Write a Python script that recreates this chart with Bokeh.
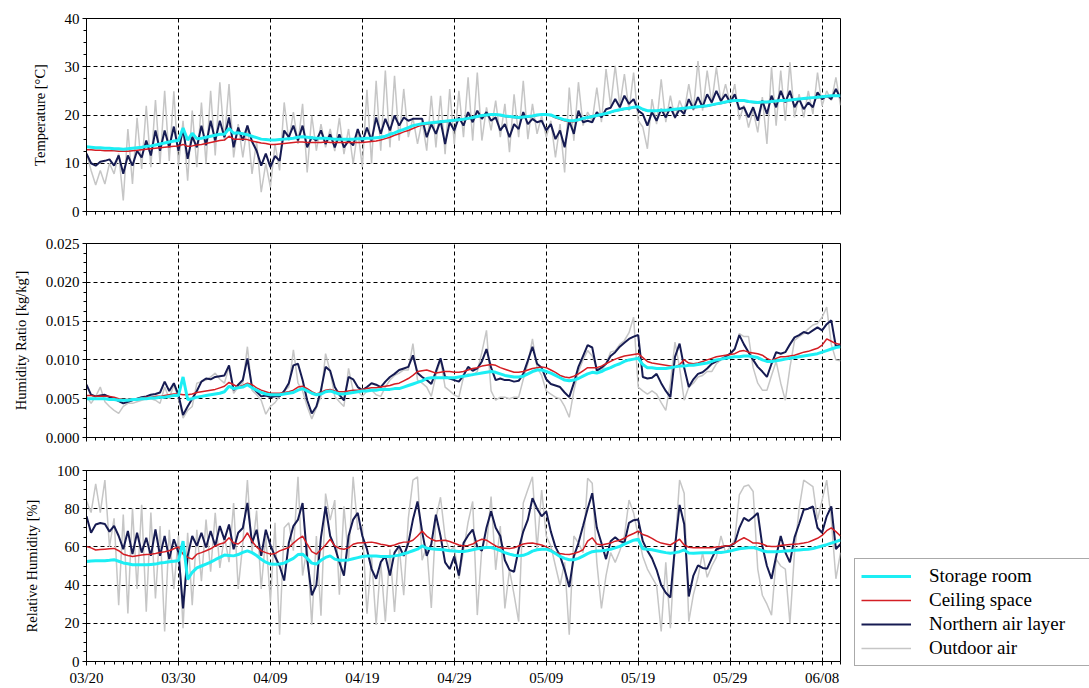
import numpy as np
from bokeh.plotting import figure
from bokeh.layouts import column, row
from bokeh.models import FixedTicker, Legend, LegendItem, Range1d
from bokeh.embed import file_html
from bokeh.resources import INLINE

FONT = "Liberation Serif"

# ---------------- data (half-day samples, day 0 = 03/20) ----------------
t_days = np.arange(165) * 0.5

date_ticks = [0, 10, 20, 30, 40, 50, 60, 70, 80]
date_labels = ["03/20", "03/30", "04/09", "04/19", "04/29", "05/09", "05/19", "05/29", "06/08"]

# Temperature [degC]
temp_outdoor = [
    12, 8.5, 5.5, 8.5, 5.7, 10, 7.8, 12, 2.3, 17.1, 5.7, 19.4, 8.8, 21.9, 9.2, 23.1, 9.9, 25.0, 10.5, 24.9,
    9.5, 18.8, 6.4, 20.9, 9.2, 22.6, 9.9, 25.0, 11.6, 26.8, 14.7, 26.4, 11.2, 18.1, 11.2, 17.8, 7.8, 14.5, 4.0, 10.0,
    5.0, 14.0, 8.5, 22.6, 14.7, 20.6, 14.0, 22.3, 8.1, 19.9, 12.6, 18.1, 13.3, 17.1, 12.5, 19.4, 11.9, 17.1, 9.9, 16.8,
    9.2, 25.2, 9.9, 27.1, 12.6, 29.2, 13.3, 28.1, 14.7, 25.4, 15.4, 19.4, 14.0, 18.8, 12.6, 24.0, 13.3, 24.0, 11.9, 25.4,
    14.0, 25.0, 15.4, 27.8, 14.7, 28.8, 14.7, 21.6, 16.8, 23.0, 15.4, 22.3, 12.3, 24.3, 15.4, 27.1, 15.0, 22.3, 16.1, 19.9,
    15.4, 18.8, 11.2, 18.1, 8.1, 25.7, 14.7, 26.8, 17.8, 20.6, 18.8, 25.7, 18.5, 29.5, 21.9, 30.2, 21.9, 28.5, 20.9, 28.8,
    18.8, 17.5, 13.0, 23.3, 18.1, 27.4, 18.5, 24.0, 19.2, 23.0, 20.6, 26.4, 20.9, 31.2, 20.9, 29.2, 22.3, 29.9, 22.6, 26.4,
    22.3, 26.4, 19.0, 22.0, 17.4, 21.0, 16.4, 23.7, 14.0, 29.9, 17.8, 29.2, 18.8, 30.9, 19.5, 24.3, 19.5, 25.0, 20.2, 28.8,
    21.9, 25.0, 23.0, 27.8, 22.0]
temp_northern = [
    12.0, 10.0, 9.5, 10.3, 10.5, 10.8, 9.5, 11.6, 7.8, 11.6, 9.5, 12.6, 11.2, 14.7, 11.6, 16.8, 12.6, 16.8, 13.3, 17.6,
    12.6, 17.1, 10.9, 15.5, 13.3, 17.8, 13.7, 18.8, 14.7, 18.8, 15.4, 19.5, 13.3, 17.4, 14.7, 17.8, 14.5, 12.6, 9.5, 12.0,
    9.2, 11.5, 10.5, 16.8, 15.4, 17.8, 14.7, 17.8, 13.3, 15.4, 14.7, 16.8, 14.0, 16.0, 13.3, 16.0, 13.3, 14.7, 13.7, 17.1,
    14.3, 17.4, 14.7, 19.5, 16.1, 19.2, 16.8, 19.9, 17.8, 19.5, 18.8, 19.2, 19.2, 19.2, 15.4, 18.1, 16.1, 18.8, 14.0, 18.5,
    16.8, 19.5, 17.8, 20.6, 18.5, 20.9, 19.2, 20.6, 18.8, 19.5, 16.8, 18.1, 15.4, 18.1, 17.1, 20.6, 18.1, 19.2, 18.5, 18.8,
    16.8, 18.1, 15.0, 16.8, 13.3, 18.8, 16.1, 20.9, 18.5, 18.8, 18.5, 20.6, 19.5, 21.2, 21.5, 23.3, 21.6, 24.0, 22.3, 23.3,
    20.9, 20.2, 17.8, 20.6, 18.8, 21.2, 19.5, 21.6, 19.5, 21.2, 20.2, 23.3, 21.2, 23.7, 21.6, 24.3, 22.6, 25.0, 22.9, 24.3,
    22.6, 24.3, 21.2, 21.6, 19.5, 21.6, 18.8, 23.0, 20.2, 24.0, 21.6, 25.0, 22.6, 25.0, 21.6, 23.3, 21.2, 22.6, 21.6, 24.7,
    23.3, 24.0, 23.3, 25.4, 23.5]
temp_storage = [
    13.4, 13.3, 13.2, 13.2, 13.1, 13.1, 13.0, 13.0, 12.9, 13.0, 13.1, 13.2, 13.3, 13.5, 13.6, 13.8, 14.0, 14.2, 14.4, 14.6,
    14.7, 17.3, 14.8, 16.2, 15.1, 15.2, 15.4, 15.6, 15.8, 16.0, 16.0, 17.2, 16.2, 16.3, 16.1, 15.9, 15.6, 15.3, 15.0, 14.9,
    14.8, 14.8, 14.9, 15.0, 15.1, 15.2, 15.4, 15.5, 15.4, 15.3, 15.2, 15.2, 15.2, 15.1, 15.0, 15.0, 15.0, 15.0, 15.0, 15.1,
    15.1, 15.2, 15.2, 15.3, 15.4, 15.6, 16.0, 16.3, 16.7, 17.0, 17.4, 17.8, 18.0, 18.2, 18.3, 18.4, 18.5, 18.6, 18.7, 18.8,
    18.9, 19.0, 19.1, 19.3, 19.5, 19.7, 19.9, 20.0, 20.1, 20.1, 20.0, 19.8, 19.7, 19.6, 19.5, 19.6, 19.7, 19.8, 20.0, 20.1,
    20.1, 20.0, 19.6, 19.3, 19.0, 18.8, 18.8, 19.0, 19.3, 19.5, 19.7, 19.9, 20.1, 20.3, 20.6, 20.9, 21.1, 21.3, 21.4, 21.6,
    21.7, 21.2, 20.9, 20.9, 20.9, 21.0, 21.0, 21.1, 21.2, 21.3, 21.4, 21.5, 21.6, 21.7, 21.8, 21.9, 22.1, 22.3, 22.5, 22.7,
    22.9, 23.0, 23.0, 23.0, 22.8, 22.7, 22.6, 22.7, 22.7, 22.8, 22.9, 23.0, 23.0, 23.1, 23.2, 23.3, 23.4, 23.5, 23.6, 23.7,
    23.8, 23.9, 24.0, 24.0, 24.0]
temp_ceiling = [
    12.8, 12.8, 12.7, 12.7, 12.6, 12.6, 12.6, 12.5, 12.5, 12.5, 12.6, 12.7, 12.8, 12.9, 13.0, 13.1, 13.2, 13.3, 13.4, 13.5,
    13.6, 13.9, 13.5, 13.6, 13.8, 13.9, 14.1, 14.3, 14.5, 14.7, 14.8, 15.6, 15.0, 15.0, 15.0, 14.9, 14.6, 14.4, 14.2, 14.1,
    13.9, 13.9, 14.0, 14.1, 14.2, 14.3, 14.4, 14.4, 14.3, 14.3, 14.3, 14.3, 14.4, 14.3, 14.3, 14.3, 14.3, 14.3, 14.3, 14.3,
    14.3, 14.4, 14.5, 14.6, 14.8, 15.1, 15.4, 15.8, 16.1, 16.5, 16.8, 17.2, 17.6, 17.9, 18.1, 18.3, 18.4, 18.5, 18.6, 18.7,
    18.8, 18.9, 19.0, 19.2, 19.4, 19.6, 19.8, 19.9, 20.0, 20.0, 19.9, 19.7, 19.6, 19.5, 19.4, 19.5, 19.6, 19.7, 19.9, 20.0,
    20.0, 19.9, 19.4, 19.1, 18.8, 18.6, 18.6, 18.9, 19.2, 19.4, 19.6, 19.8, 20.0, 20.2, 20.5, 20.8, 21.0, 21.2, 21.3, 21.5,
    21.6, 21.1, 20.8, 20.8, 20.8, 20.9, 20.9, 21.0, 21.1, 21.2, 21.3, 21.4, 21.5, 21.6, 21.7, 21.8, 22.0, 22.2, 22.4, 22.6,
    22.8, 22.9, 22.9, 22.9, 22.7, 22.6, 22.5, 22.6, 22.6, 22.7, 22.8, 22.9, 22.9, 23.0, 23.1, 23.2, 23.3, 23.4, 23.5, 23.6,
    23.7, 23.8, 23.9, 23.9, 23.9]

# Humidity ratio [g/kg'] (plotted in kg/kg')
hr_storage = [
    5.0, 5.0, 5.0, 5.0, 5.0, 4.9, 4.9, 4.8, 4.8, 4.8, 4.9, 4.9, 5.0, 5.0, 5.1, 5.1, 5.2, 5.2, 5.3, 5.4,
    5.4, 7.8, 4.9, 5.0, 5.2, 5.3, 5.4, 5.5, 5.6, 5.7, 5.9, 6.6, 6.3, 6.4, 6.5, 6.8, 6.4, 6.1, 5.8, 5.6,
    5.5, 5.5, 5.5, 5.6, 5.7, 5.8, 6.1, 6.3, 6.0, 5.7, 5.5, 5.6, 5.9, 6.0, 5.8, 5.6, 5.6, 5.7, 5.8, 5.9,
    6.0, 6.0, 6.1, 6.1, 6.2, 6.2, 6.2, 6.3, 6.3, 6.5, 6.7, 6.9, 7.1, 7.3, 7.6, 7.7, 7.7, 7.7, 7.7, 7.7,
    7.7, 7.8, 7.9, 8.0, 8.1, 8.2, 8.3, 8.4, 8.5, 8.4, 8.2, 8.0, 7.9, 7.8, 7.8, 7.9, 8.2, 8.5, 8.7, 8.7,
    8.5, 8.3, 8.0, 7.7, 7.4, 7.3, 7.4, 7.6, 7.9, 8.2, 8.4, 8.3, 8.5, 8.8, 9.0, 9.3, 9.5, 9.8, 10.0, 10.1,
    10.2, 9.4, 9.0, 9.0, 8.9, 8.9, 8.9, 9.0, 9.1, 9.2, 9.2, 9.3, 9.3, 9.4, 9.5, 9.6, 9.8, 10.0, 10.1, 10.2,
    10.3, 10.4, 10.4, 10.5, 10.5, 10.4, 10.3, 10.0, 9.8, 9.8, 9.9, 10.0, 10.1, 10.2, 10.3, 10.4, 10.5, 10.6, 10.7, 10.8,
    11.0, 11.2, 11.4, 11.6, 11.7]
hr_ceiling = [
    5.4, 5.4, 5.3, 5.3, 5.3, 5.3, 5.2, 5.0, 4.9, 4.9, 5.0, 5.0, 5.1, 5.2, 5.2, 5.3, 5.3, 5.4, 5.5, 5.6,
    5.6, 5.5, 5.5, 5.6, 5.8, 5.9, 6.0, 6.1, 6.2, 6.4, 6.6, 7.1, 6.8, 6.5, 6.7, 7.0, 6.8, 6.4, 6.1, 5.9,
    5.7, 5.7, 5.7, 5.8, 5.9, 6.1, 6.5, 6.6, 6.3, 5.9, 5.6, 5.8, 6.1, 6.2, 6.0, 5.9, 5.9, 6.0, 6.1, 6.1,
    6.2, 6.3, 6.4, 6.4, 6.5, 6.6, 6.7, 6.9, 7.0, 7.3, 7.6, 8.0, 8.5, 8.6, 8.7, 8.5, 8.3, 8.4, 8.5, 8.5,
    8.4, 8.4, 8.5, 8.7, 8.9, 9.0, 9.2, 9.3, 9.4, 9.3, 9.0, 8.8, 8.6, 8.4, 8.4, 8.5, 8.7, 8.9, 9.0, 9.1,
    9.0, 8.7, 8.4, 8.0, 7.8, 7.7, 7.9, 8.2, 8.6, 9.0, 9.0, 9.0, 9.2, 9.5, 9.8, 10.1, 10.3, 10.5, 10.6, 10.7,
    10.8, 10.3, 9.8, 9.6, 9.5, 9.4, 9.3, 9.2, 9.1, 9.4, 10.0, 9.6, 9.5, 9.6, 9.8, 10.0, 10.2, 10.4, 10.5, 10.6,
    10.7, 10.8, 11.1, 11.2, 11.0, 10.9, 10.8, 10.6, 10.2, 9.9, 10.2, 10.4, 10.4, 10.5, 10.6, 10.8, 11.0, 11.1, 11.3, 11.5,
    11.9, 12.7, 12.4, 12.1, 12.0]
hr_northern = [
    6.8, 5.5, 5.3, 5.4, 5.5, 5.2, 5.0, 4.7, 4.4, 4.6, 4.8, 5.0, 5.2, 5.3, 5.5, 5.6, 5.8, 7.2, 6.0, 7.0,
    5.5, 2.9, 4.0, 5.0, 6.0, 7.2, 7.6, 7.5, 7.8, 7.9, 8.0, 9.3, 6.1, 6.8, 7.4, 10.2, 6.5, 5.9, 5.3, 5.4,
    5.2, 5.3, 5.3, 6.0, 7.0, 9.3, 9.5, 7.4, 4.8, 3.1, 4.0, 6.1, 9.1, 8.6, 6.5, 5.5, 4.8, 7.8, 7.5, 6.5,
    6.1, 6.5, 7.0, 6.8, 6.5, 7.2, 7.8, 8.2, 8.7, 8.9, 9.1, 10.6, 8.3, 7.8, 7.4, 6.9, 8.5, 10.2, 7.8, 7.6,
    7.4, 7.2, 8.0, 9.1, 8.6, 8.9, 9.8, 11.4, 9.0, 7.4, 7.6, 7.4, 7.4, 7.2, 7.3, 8.2, 9.9, 11.7, 9.5, 9.0,
    7.5, 6.9, 6.7, 6.5, 5.8, 5.2, 7.0, 9.1, 10.5, 11.9, 11.6, 8.6, 9.0, 9.5, 10.5, 11.0, 11.7, 12.2, 12.7, 13.0,
    13.2, 7.8, 7.6, 7.7, 8.2, 7.0, 6.0, 5.2, 10.4, 12.1, 9.0, 6.5, 7.5, 8.2, 8.4, 8.9, 9.5, 9.8, 10.1, 10.4,
    10.8, 11.4, 13.2, 12.0, 11.0, 10.0, 9.1, 8.5, 7.8, 9.5, 11.0, 10.8, 11.0, 12.0, 12.9, 13.2, 13.6, 13.4, 13.8, 14.2,
    13.8, 14.6, 15.1, 11.7, 12.0]
hr_outdoor = [
    5.3, 4.4, 5.3, 6.5, 4.6, 4.0, 3.5, 3.1, 4.0, 4.4, 4.4, 4.6, 4.8, 5.0, 5.0, 4.8, 4.4, 6.5, 5.0, 6.8,
    5.0, 2.5, 3.5, 4.0, 7.0, 7.2, 7.4, 7.8, 8.3, 7.5, 7.0, 9.1, 5.7, 6.5, 7.0, 11.7, 6.1, 5.5, 4.8, 3.0,
    4.0, 4.5, 5.3, 6.0, 6.5, 11.3, 7.0, 6.0, 4.0, 2.4, 3.8, 5.3, 10.8, 8.5, 5.3, 4.6, 4.0, 8.9, 6.0, 6.0,
    5.3, 6.0, 6.1, 5.5, 5.3, 6.5, 7.4, 8.0, 8.3, 8.7, 8.7, 12.1, 7.4, 7.0, 6.5, 5.3, 8.0, 10.0, 6.5, 6.0,
    5.5, 5.2, 7.8, 8.2, 8.0, 8.5, 11.0, 13.8, 6.0, 4.8, 5.2, 5.2, 5.0, 5.2, 5.2, 7.5, 9.5, 12.7, 9.0, 8.0,
    6.0, 5.6, 5.2, 5.0, 4.0, 2.6, 6.0, 8.5, 10.0, 11.2, 10.5, 9.0, 8.6, 9.5, 11.0, 11.2, 12.0, 12.5, 13.5, 15.5,
    6.5, 6.0, 5.6, 6.0, 5.6, 4.5, 3.5, 7.0, 12.3, 9.0, 4.8, 6.5, 7.0, 7.8, 8.0, 8.5, 8.5, 9.5, 10.0, 10.5,
    10.7, 11.5, 13.4, 13.0, 13.0, 9.0, 7.0, 6.1, 6.1, 8.0, 9.8, 7.0, 4.8, 9.0, 12.5, 13.0, 13.4, 14.0, 14.5, 14.7,
    15.5, 16.8, 12.0, 10.0, 9.9]

# Relative humidity [%]
rh_storage = [
    52.4, 52.6, 52.7, 52.8, 52.8, 53.0, 53.3, 52.5, 51.6, 51.2, 50.7, 50.6, 50.6, 50.6, 50.8, 51.0, 51.6, 51.8, 52.2, 52.5,
    52.8, 63.0, 43.0, 46.7, 49.0, 50.0, 51.0, 52.0, 53.3, 54.5, 55.7, 55.5, 55.3, 56.0, 57.1, 57.9, 57.0, 55.5, 53.5, 52.0,
    51.0, 50.9, 51.0, 51.5, 52.8, 54.0, 56.0, 56.2, 54.0, 51.5, 51.0, 53.0, 54.5, 55.3, 53.6, 53.0, 53.0, 53.2, 53.8, 54.4,
    55.0, 55.2, 55.3, 55.2, 55.0, 55.0, 55.0, 55.3, 55.7, 56.4, 57.1, 58.0, 58.8, 60.5, 59.3, 59.0, 58.8, 58.6, 58.4, 58.0,
    57.9, 57.6, 57.6, 58.0, 58.5, 59.0, 59.4, 59.7, 59.7, 59.0, 58.0, 57.0, 56.2, 55.6, 55.3, 55.6, 56.5, 57.8, 58.5, 58.8,
    58.8, 58.0, 56.5, 55.0, 54.0, 53.3, 53.3, 54.0, 55.2, 56.5, 57.5, 57.9, 58.0, 58.3, 58.8, 59.5, 60.3, 61.5, 62.5, 63.5,
    64.0, 59.0, 58.8, 58.5, 58.0, 57.5, 57.0, 56.7, 57.0, 57.5, 58.4, 56.8, 56.7, 56.8, 56.9, 57.0, 57.0, 57.1, 57.1, 57.4,
    57.8, 58.5, 59.0, 59.3, 59.5, 59.7, 59.0, 58.0, 57.5, 57.4, 57.4, 57.6, 57.8, 58.0, 58.2, 58.4, 58.6, 58.8, 59.2, 59.8,
    60.5, 61.2, 62.0, 62.8, 63.6]
rh_ceiling = [
    60.2, 59.5, 58.4, 58.6, 58.8, 59.0, 59.2, 58.0, 56.2, 55.5, 55.0, 55.4, 55.8, 56.0, 56.2, 56.6, 57.1, 57.5, 58.0, 59.0,
    60.0, 56.2, 54.5, 53.6, 56.2, 57.0, 58.0, 59.0, 60.5, 61.5, 62.2, 64.8, 62.0, 61.5, 63.5, 67.4, 63.0, 60.0, 57.9, 57.0,
    56.2, 56.5, 57.9, 58.8, 59.7, 62.0, 64.0, 65.7, 61.5, 57.5, 56.2, 58.5, 61.0, 64.0, 60.5, 59.2, 58.8, 59.5, 61.4, 62.0,
    62.2, 62.3, 62.5, 62.0, 61.4, 61.0, 60.5, 61.0, 61.9, 62.5, 62.6, 63.5, 65.7, 68.3, 65.7, 64.0, 63.1, 63.3, 63.5, 62.8,
    61.9, 61.0, 60.5, 60.8, 61.5, 63.0, 64.0, 63.5, 62.0, 60.5, 59.5, 59.3, 59.1, 59.5, 60.5, 61.5, 61.9, 62.0, 61.5, 61.0,
    60.0, 58.5, 57.0, 56.5, 56.2, 56.0, 56.5, 57.3, 58.5, 63.0, 64.8, 61.5, 61.0, 61.5, 62.0, 63.0, 63.5, 64.5, 66.0, 67.0,
    68.3, 66.5, 65.7, 64.5, 63.0, 62.0, 61.5, 61.0, 62.5, 64.0, 61.0, 59.8, 59.6, 59.5, 59.5, 59.5, 59.6, 60.0, 60.2, 60.5,
    60.8, 62.0, 63.5, 64.8, 63.5, 62.0, 62.0, 61.5, 60.5, 60.2, 60.2, 60.8, 61.0, 61.2, 61.4, 61.6, 62.0, 62.5, 63.5, 64.5,
    66.0, 68.5, 70.0, 68.0, 65.7]
rh_northern = [
    76.0, 67.4, 71.7, 72.5, 72.0, 68.0, 71.0, 65.7, 58.8, 68.3, 56.2, 67.4, 57.0, 64.8, 55.3, 69.1, 55.3, 65.7, 53.6, 64.0,
    57.1, 27.8, 55.3, 65.7, 60.5, 67.4, 59.7, 68.3, 60.5, 70.9, 63.8, 71.7, 58.8, 67.4, 69.9, 83.0, 62.0, 69.0, 55.3, 69.0,
    60.9, 55.0, 50.0, 42.4, 62.0, 70.9, 74.3, 83.0, 53.6, 34.7, 40.0, 65.0, 81.2, 65.7, 60.0, 52.0, 45.0, 65.7, 74.3, 77.8,
    65.7, 58.8, 48.4, 43.3, 52.0, 55.3, 45.0, 57.0, 60.5, 55.3, 62.0, 74.3, 83.8, 68.0, 55.3, 61.5, 76.9, 65.7, 51.9, 48.4,
    55.0, 45.0, 62.0, 66.0, 69.1, 60.0, 58.0, 70.0, 78.6, 70.0, 65.7, 53.0, 48.0, 47.0, 58.8, 68.0, 74.3, 85.5, 80.0, 76.0,
    78.6, 68.0, 60.0, 55.3, 48.0, 39.0, 55.0, 62.0, 70.9, 80.0, 88.1, 70.0, 62.0, 53.6, 63.0, 65.0, 63.0, 62.2, 72.6, 74.0,
    74.3, 63.0, 58.0, 54.0, 48.0, 40.0, 36.0, 33.5, 60.0, 82.0, 72.0, 34.0, 45.0, 50.3, 49.0, 48.6, 54.0, 58.8, 59.5, 60.5,
    60.5, 62.0, 70.0, 75.2, 73.6, 75.5, 77.8, 60.5, 50.0, 43.3, 55.0, 65.7, 57.1, 51.9, 65.0, 72.0, 79.5, 80.0, 81.2, 70.0,
    67.4, 76.0, 81.2, 58.8, 61.5]
rh_outdoor = [
    84, 78, 93, 78, 95, 60, 75, 29.5, 76.9, 25.2, 80.3, 38, 82, 26, 78, 33, 70.9, 15.7, 69, 38,
    65.7, 17.4, 67.4, 29.5, 69, 42, 74.3, 47, 77.8, 49, 65.7, 52, 83, 38, 62, 95, 57, 79, 38, 65.7,
    31, 72.6, 14, 70.0, 72.6, 58.0, 96.7, 45.0, 60.0, 19.1, 65.7, 24.0, 87.9, 74.0, 84.5, 35.0, 81.2, 53.0, 96.7, 69.0,
    70.9, 25.0, 55.0, 19.1, 51.9, 21.0, 58.8, 26.0, 60.5, 34.7, 75.0, 95.0, 96.7, 53.0, 60.5, 28.0, 75.0, 86.0, 65.0, 58.0,
    60, 43.3, 58, 73, 83.8, 24.3, 60, 60, 86.4, 48, 70.9, 27.8, 48, 35, 20.9, 83, 90, 96.7, 58.8, 89.7,
    65.7, 60.5, 50, 39.8, 51.9, 14, 65.7, 62, 57, 95.9, 93.3, 51.9, 27.8, 45, 57, 51.9, 58, 65.7, 84.5, 77.8,
    65.7, 55, 48.4, 44, 39.8, 15.7, 51.9, 17.4, 60, 95, 88.1, 20.9, 35, 44.1, 57, 44.1, 50, 54.5, 65.7, 57,
    60, 63.8, 87.2, 91.6, 92.4, 89, 48.4, 34.7, 30, 24.3, 53.6, 50, 48.4, 20, 57, 80, 95, 93.3, 91.6, 74.3,
    84.5, 95, 74.3, 43.3, 57]

series_labels = ["Storage room", "Ceiling space", "Northern air layer", "Outdoor air"]

for name, arr in [("temp_outdoor", temp_outdoor), ("temp_northern", temp_northern),
                  ("temp_storage", temp_storage), ("temp_ceiling", temp_ceiling),
                  ("hr_storage", hr_storage), ("hr_ceiling", hr_ceiling),
                  ("hr_northern", hr_northern), ("hr_outdoor", hr_outdoor),
                  ("rh_storage", rh_storage), ("rh_ceiling", rh_ceiling),
                  ("rh_northern", rh_northern), ("rh_outdoor", rh_outdoor)]:
    assert len(arr) == len(t_days), (name, len(arr))

# ---------------- styling ----------------
C_STORAGE = "#1CEEF4"
C_CEILING = "#D41E24"
C_NORTH = "#161B52"
C_OUT = "#C6C6C6"
STYLES = [(C_STORAGE, 3), (C_CEILING, 1.5), (C_NORTH, 2), (C_OUT, 1.5)]


def make_panel(height, top, bottom, yr, yticks, yminor, ylabels, ytitle, show_xlabels):
    p = figure(width=845, height=height, x_range=Range1d(0, 82), y_range=Range1d(*yr),
               output_backend="svg", toolbar_location=None,
               min_border_left=86, min_border_right=5, min_border_top=top, min_border_bottom=bottom)
    p.background_fill_color = "white"
    p.border_fill_color = "white"
    p.outline_line_color = "black"
    p.outline_line_width = 1

    xt = FixedTicker(ticks=date_ticks, minor_ticks=list(range(0, 83)))
    yt = FixedTicker(ticks=yticks, minor_ticks=yminor)
    p.xaxis.ticker = xt
    p.yaxis.ticker = yt
    p.xgrid.ticker = xt
    p.ygrid.ticker = yt
    for g in (p.xgrid, p.ygrid):
        g.grid_line_color = "black"
        g.grid_line_dash = "4 3"
        g.grid_line_width = 1

    for ax in (p.xaxis[0], p.yaxis[0]):
        ax.axis_line_color = "black"
        ax.major_tick_line_color = "black"
        ax.minor_tick_line_color = "black"
        ax.major_tick_in = 0
        ax.major_tick_out = 4
        ax.minor_tick_in = 0
        ax.minor_tick_out = 3
        ax.major_label_text_font = FONT
        ax.major_label_text_color = "black"
        ax.major_label_text_font_size = "15px"

    p.xaxis.major_label_standoff = 4
    if show_xlabels:
        p.xaxis.major_label_overrides = {k: v for k, v in zip(date_ticks, date_labels)}
    else:
        p.xaxis.major_label_text_font_size = "0px"
        p.xaxis.major_label_standoff = 0
        p.xaxis.major_label_overrides = {k: "" for k in date_ticks}

    p.yaxis.major_label_overrides = {k: v for k, v in zip(yticks, ylabels)}
    p.yaxis.major_label_standoff = 3
    p.yaxis.axis_label = ytitle
    p.yaxis.axis_label_text_font = FONT
    p.yaxis.axis_label_text_font_size = "14.5px"
    p.yaxis.axis_label_text_font_style = "normal"
    p.yaxis.axis_label_text_color = "black"
    p.yaxis.axis_label_standoff = 14
    return p


def add_lines(p, storage, ceiling, northern, outdoor):
    r_o = p.line(t_days, outdoor, line_color=C_OUT, line_width=1.5)
    r_n = p.line(t_days, northern, line_color=C_NORTH, line_width=2)
    r_c = p.line(t_days, ceiling, line_color=C_CEILING, line_width=1.5)
    r_s = p.line(t_days, storage, line_color=C_STORAGE, line_width=3)
    return r_s, r_c, r_n, r_o


temp_ticks = [0, 10, 20, 30, 40]
temp_tick_labels = ["0", "10", "20", "30", "40"]
hr_ticks = [0.0, 0.005, 0.01, 0.015, 0.02, 0.025]
hr_tick_labels = ["0.000", "0.005", "0.010", "0.015", "0.020", "0.025"]
rh_ticks = [0, 20, 40, 60, 80, 100]
rh_tick_labels = ["0", "20", "40", "60", "80", "100"]

p1 = make_panel(230, 18, 19, (0, 40), temp_ticks, list(np.arange(0, 40.1, 2.5)),
                temp_tick_labels, "Temperature [°C]", False)
add_lines(p1, temp_storage, temp_ceiling, temp_northern, temp_outdoor)

p2 = make_panel(230, 13, 23, (0, 0.025), hr_ticks, list(np.arange(0, 0.02501, 0.00125)),
                hr_tick_labels, "Humidity Ratio [kg/kg']", False)
add_lines(p2, np.asarray(hr_storage) * 1e-3, np.asarray(hr_ceiling) * 1e-3,
          np.asarray(hr_northern) * 1e-3, np.asarray(hr_outdoor) * 1e-3)

p3 = make_panel(228, 10, 25, (0, 100), rh_ticks, list(np.arange(0, 100.1, 5)),
                rh_tick_labels, "Relative Humidity [%]", True)
add_lines(p3, rh_storage, rh_ceiling, rh_northern, rh_outdoor)

# ---------------- legend (separate blank canvas to the right) ----------------
# The key's line glyphs reuse the RH series, drawn on a 0..1 range so the lines
# themselves stay out of view and only the legend swatches show.
pl = figure(width=244, height=688, x_range=Range1d(0, 1), y_range=Range1d(0, 1),
            output_backend="svg", toolbar_location=None,
            x_axis_location=None, y_axis_location=None,
            min_border_left=0, min_border_right=0, min_border_top=0, min_border_bottom=0)
pl.outline_line_color = None
pl.xgrid.visible = False
pl.ygrid.visible = False
pl.background_fill_color = "white"
pl.border_fill_color = "white"
legend_renderers = add_lines(pl, rh_storage, rh_ceiling, rh_northern, rh_outdoor)

legend = Legend(items=[LegendItem(label=lab, renderers=[r]) for lab, r in zip(series_labels, legend_renderers)],
                location=(9, 22))
legend.label_text_font = FONT
legend.label_text_font_size = "19px"
legend.label_text_color = "black"
legend.glyph_width = 50
legend.glyph_height = 20
legend.label_height = 20
legend.label_width = 175
legend.label_standoff = 18
legend.spacing = 2
legend.padding = 6
legend.margin = 0
legend.border_line_color = "#555555"
legend.border_line_width = 1
legend.background_fill_color = "white"
legend.background_fill_alpha = 1
pl.add_layout(legend)

layout = row(column(p1, p2, p3), pl)
open("out.html", "w").write(file_html(layout, INLINE))
